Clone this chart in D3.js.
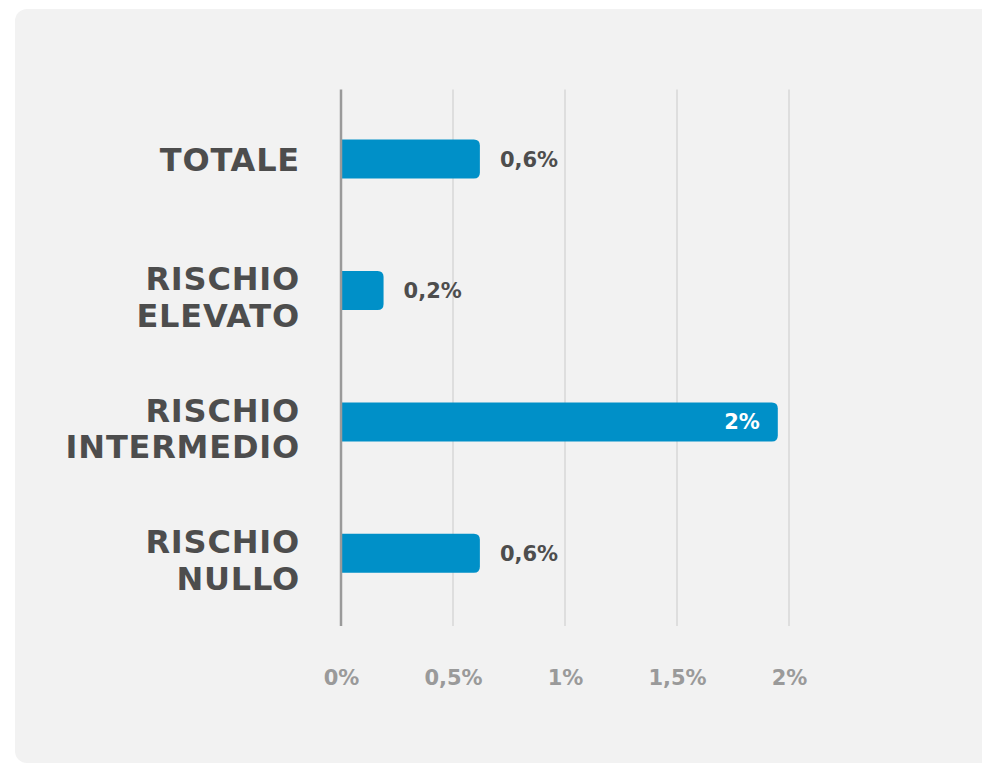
<!DOCTYPE html>
<html lang="it">
<head>
<meta charset="utf-8">
<title>Rischio</title>
<script src="https://cdn.jsdelivr.net/npm/d3@7"></script>
<style>
  html, body { margin: 0; padding: 0; background: #ffffff; }
  svg { display: block; }
  text { font-family: "DejaVu Sans", sans-serif; font-weight: bold; }
</style>
</head>
<body>
<div id="chart"></div>
<script>
// Categorie (ogni voce: righe dell'etichetta)
const categories = [
  ["TOTALE"],
  ["RISCHIO", "ELEVATO"],
  ["RISCHIO", "INTERMEDIO"],
  ["RISCHIO", "NULLO"]
];
// Valori percentuali
const values = [0.62, 0.19, 1.95, 0.62];
// Tick dell'asse x
const ticks = [0, 0.5, 1, 1.5, 2];

const W = 982, H = 763;
const it = d3.formatLocale({ decimal: ",", thousands: ".", grouping: [3], currency: ["", " €"] });
const fmtValue = v => it.format(".1r")(v) + "%";
const fmtTick = v => it.format("~g")(v) + "%";

const svg = d3.select("#chart").append("svg")
  .attr("width", W).attr("height", H);

// pannello di sfondo
svg.append("rect")
  .attr("x", 15).attr("y", 9)
  .attr("width", W + 40).attr("height", 754)
  .attr("rx", 12).attr("ry", 12)
  .attr("fill", "#f2f2f2");

const x = d3.scaleLinear().domain([0, 2]).range([341, 789]);
const y = d3.scaleBand()
  .domain(categories.map((d, i) => i))
  .range([93.4, 619])
  .paddingInner(0.703)
  .paddingOuter(0.3515);

// griglia verticale
svg.append("g")
  .selectAll("line")
  .data(ticks.filter(t => t > 0))
  .join("line")
  .attr("x1", d => x(d)).attr("x2", d => x(d))
  .attr("y1", 89.5).attr("y2", 626)
  .attr("stroke", "#d0d0d0")
  .attr("stroke-width", 1.2);

// barre con angoli destri arrotondati
const r = 6;
function barPath(x0, x1, y0, h) {
  const rr = Math.min(r, (x1 - x0) / 2, h / 2);
  return `M${x0},${y0}H${x1 - rr}Q${x1},${y0} ${x1},${y0 + rr}` +
         `V${y0 + h - rr}Q${x1},${y0 + h} ${x1 - rr},${y0 + h}H${x0}Z`;
}

svg.append("g")
  .selectAll("path")
  .data(values)
  .join("path")
  .attr("d", (d, i) => barPath(x(0), x(d), y(i), y.bandwidth()))
  .attr("fill", "#0090c8");

// asse verticale
svg.append("line")
  .attr("x1", x(0)).attr("x2", x(0))
  .attr("y1", 89.5).attr("y2", 626)
  .attr("stroke", "#9a9a9a")
  .attr("stroke-width", 2.5);

// etichette valore
svg.append("g")
  .selectAll("text")
  .data(values)
  .join("text")
  .each(function (d, i) {
    const inside = x(d) - x(0) > 300;
    d3.select(this)
      .attr("x", inside ? x(d) - 18 : x(d) + 20)
      .attr("y", y(i) + y.bandwidth() / 2)
      .attr("dy", "0.36em")
      .attr("text-anchor", inside ? "end" : "start")
      .attr("fill", inside ? "#ffffff" : "#4d4d4d")
      .attr("font-size", 21)
      .text(fmtValue(d));
  });

// etichette categorie
const lineH = 36.7;
svg.append("g")
  .selectAll("text")
  .data(categories)
  .join("text")
  .attr("text-anchor", "end")
  .attr("fill", "#4d4d4d")
  .attr("font-size", 32)
  .attr("letter-spacing", 0.8)
  .each(function (lines, i) {
    const cy = y(i) + y.bandwidth() / 2;
    const shift = lines.length > 1 ? 6.5 : 0;
    const first = cy - (lines.length - 1) * lineH / 2 + shift;
    d3.select(this).selectAll("tspan")
      .data(lines)
      .join("tspan")
      .attr("x", 300)
      .attr("y", (l, j) => first + j * lineH)
      .attr("dy", "0.36em")
      .text(l => l);
  });

// asse x
const axis = svg.append("g")
  .attr("transform", "translate(0,677)")
  .call(d3.axisBottom(x).tickValues(ticks).tickFormat(fmtTick).tickSize(0).tickPadding(0));
axis.select(".domain").remove();
axis.selectAll("text")
  .attr("dy", "0.36em")
  .attr("fill", "#9a9a9a")
  .attr("font-size", 21)
  .attr("font-family", "DejaVu Sans, sans-serif")
  .attr("font-weight", "bold");
</script>
</body>
</html>
